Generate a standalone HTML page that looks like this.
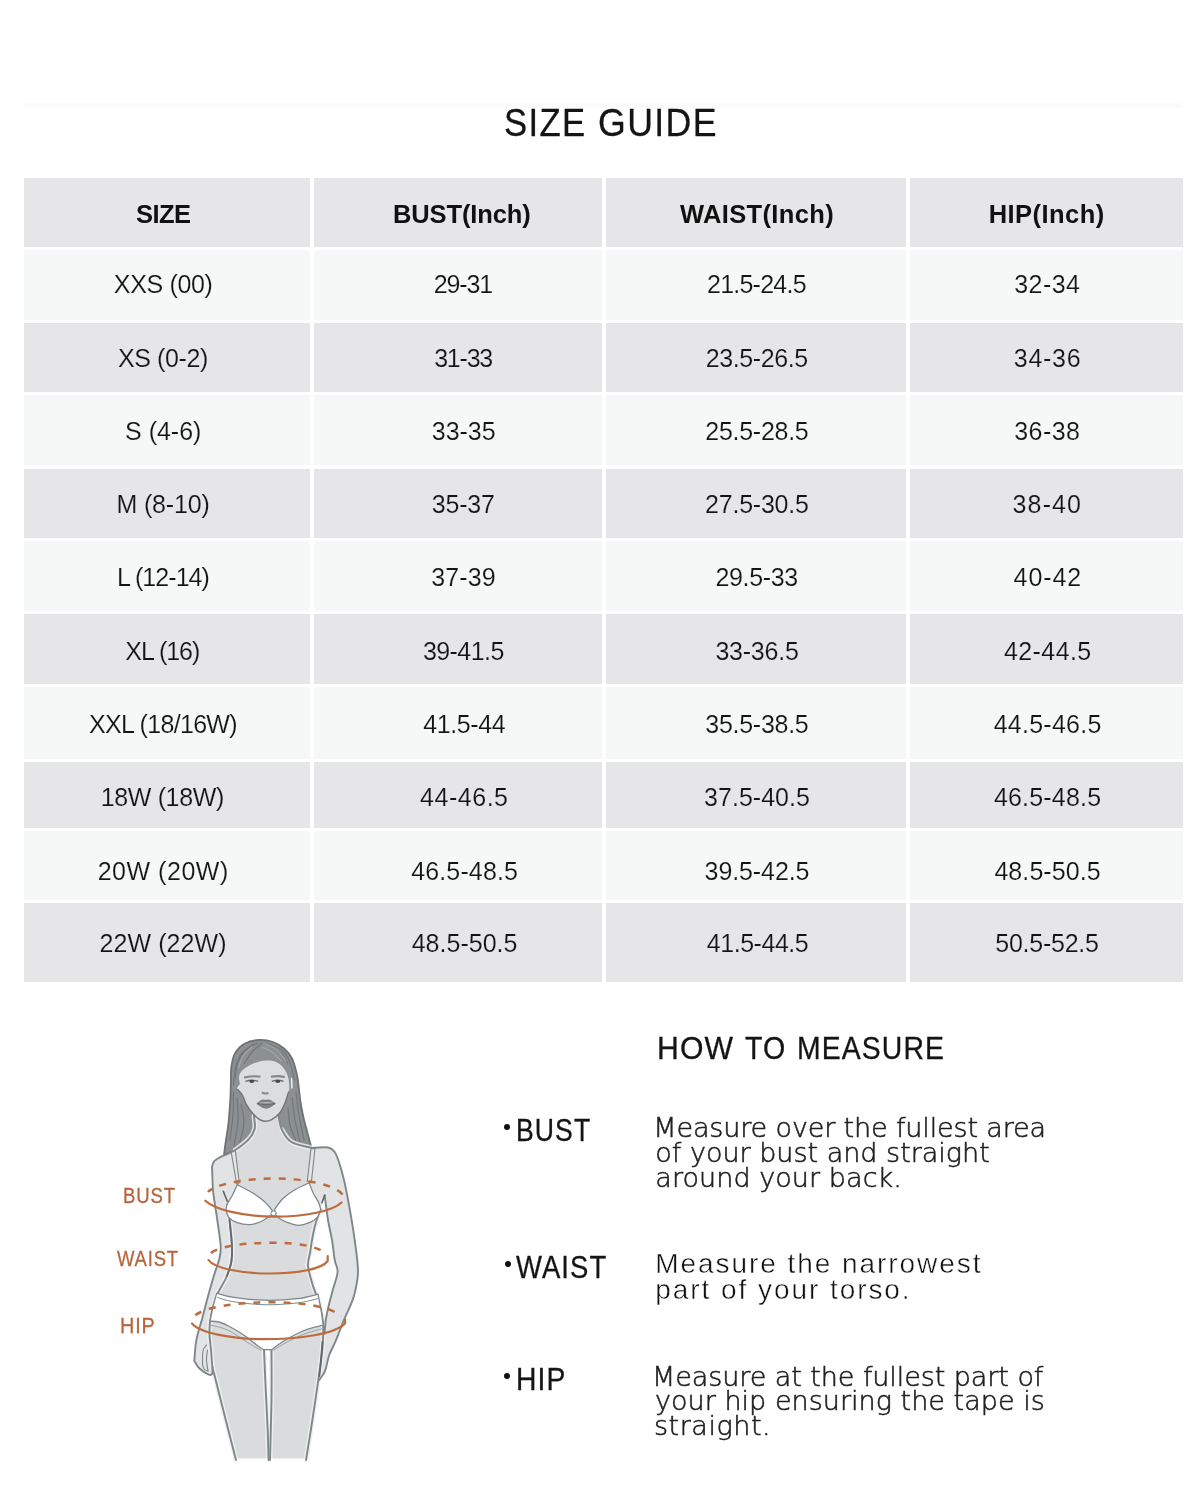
<!DOCTYPE html>
<html lang="en">
<head>
<meta charset="utf-8">
<title>Size Guide</title>
<style>
html,body{margin:0;padding:0;background:#fff;}
body{width:1200px;height:1500px;position:relative;overflow:hidden;font-family:"Liberation Sans",sans-serif;color:#151515;}
.c{position:absolute;}
.t{position:absolute;white-space:nowrap;line-height:1;}
.h{font-weight:bold;font-size:25.5px;color:#111;}
.d{font-size:25px;color:#141414;}
.e0{-webkit-text-stroke:0.15px #f6f7f7;}
.e1{-webkit-text-stroke:0.15px #e6e6e8;}
.title{transform-origin:0 0;position:absolute;white-space:nowrap;line-height:1;color:#141414;-webkit-text-stroke:0.3px #141414;}
.lab{transform-origin:0 0;position:absolute;white-space:nowrap;line-height:1;-webkit-text-stroke:0.3px #b5663c;}
.p{position:absolute;white-space:nowrap;line-height:1;font-family:"DejaVu Sans","Liberation Sans",sans-serif;font-weight:200;color:#222;-webkit-text-stroke:0.55px #1e1e1e;}
.p2{font-family:"Liberation Sans",sans-serif;font-weight:normal;color:#111;-webkit-text-stroke:0.45px #fff;}
#fig{position:absolute;left:0;top:0;}
</style>
</head>
<body>
<div class="c" style="left:24px;top:103px;width:1159px;height:5px;background:#fbfbfb"></div>
<div class="title" style="left:503.7px;top:104px;font-size:38px;letter-spacing:1.5px;transform:scaleX(0.9118)">SIZE</div>
<div class="title" style="left:598.1px;top:104px;font-size:38px;letter-spacing:1.5px;transform:scaleX(0.9382)">GUIDE</div>
<div class="c" style="left:24px;top:178px;width:286px;height:69px;background:#e6e6e8"></div>
<div class="c" style="left:314px;top:178px;width:288px;height:69px;background:#e6e6e8"></div>
<div class="c" style="left:606px;top:178px;width:300px;height:69px;background:#e6e6e8"></div>
<div class="c" style="left:910px;top:178px;width:273px;height:69px;background:#e6e6e8"></div>
<div class="c" style="left:24px;top:249.5px;width:286px;height:70.5px;background:#f6f7f7"></div>
<div class="c" style="left:314px;top:249.5px;width:288px;height:70.5px;background:#f6f7f7"></div>
<div class="c" style="left:606px;top:249.5px;width:300px;height:70.5px;background:#f6f7f7"></div>
<div class="c" style="left:910px;top:249.5px;width:273px;height:70.5px;background:#f6f7f7"></div>
<div class="c" style="left:24px;top:322.5px;width:286px;height:69.5px;background:#e6e6e8"></div>
<div class="c" style="left:314px;top:322.5px;width:288px;height:69.5px;background:#e6e6e8"></div>
<div class="c" style="left:606px;top:322.5px;width:300px;height:69.5px;background:#e6e6e8"></div>
<div class="c" style="left:910px;top:322.5px;width:273px;height:69.5px;background:#e6e6e8"></div>
<div class="c" style="left:24px;top:395px;width:286px;height:70px;background:#f6f7f7"></div>
<div class="c" style="left:314px;top:395px;width:288px;height:70px;background:#f6f7f7"></div>
<div class="c" style="left:606px;top:395px;width:300px;height:70px;background:#f6f7f7"></div>
<div class="c" style="left:910px;top:395px;width:273px;height:70px;background:#f6f7f7"></div>
<div class="c" style="left:24px;top:468.5px;width:286px;height:69.5px;background:#e6e6e8"></div>
<div class="c" style="left:314px;top:468.5px;width:288px;height:69.5px;background:#e6e6e8"></div>
<div class="c" style="left:606px;top:468.5px;width:300px;height:69.5px;background:#e6e6e8"></div>
<div class="c" style="left:910px;top:468.5px;width:273px;height:69.5px;background:#e6e6e8"></div>
<div class="c" style="left:24px;top:540.5px;width:286px;height:70.5px;background:#f6f7f7"></div>
<div class="c" style="left:314px;top:540.5px;width:288px;height:70.5px;background:#f6f7f7"></div>
<div class="c" style="left:606px;top:540.5px;width:300px;height:70.5px;background:#f6f7f7"></div>
<div class="c" style="left:910px;top:540.5px;width:273px;height:70.5px;background:#f6f7f7"></div>
<div class="c" style="left:24px;top:614px;width:286px;height:69.5px;background:#e6e6e8"></div>
<div class="c" style="left:314px;top:614px;width:288px;height:69.5px;background:#e6e6e8"></div>
<div class="c" style="left:606px;top:614px;width:300px;height:69.5px;background:#e6e6e8"></div>
<div class="c" style="left:910px;top:614px;width:273px;height:69.5px;background:#e6e6e8"></div>
<div class="c" style="left:24px;top:686.5px;width:286px;height:72.5px;background:#f6f7f7"></div>
<div class="c" style="left:314px;top:686.5px;width:288px;height:72.5px;background:#f6f7f7"></div>
<div class="c" style="left:606px;top:686.5px;width:300px;height:72.5px;background:#f6f7f7"></div>
<div class="c" style="left:910px;top:686.5px;width:273px;height:72.5px;background:#f6f7f7"></div>
<div class="c" style="left:24px;top:762px;width:286px;height:66px;background:#e6e6e8"></div>
<div class="c" style="left:314px;top:762px;width:288px;height:66px;background:#e6e6e8"></div>
<div class="c" style="left:606px;top:762px;width:300px;height:66px;background:#e6e6e8"></div>
<div class="c" style="left:910px;top:762px;width:273px;height:66px;background:#e6e6e8"></div>
<div class="c" style="left:24px;top:830.5px;width:286px;height:69.5px;background:#f6f7f7"></div>
<div class="c" style="left:314px;top:830.5px;width:288px;height:69.5px;background:#f6f7f7"></div>
<div class="c" style="left:606px;top:830.5px;width:300px;height:69.5px;background:#f6f7f7"></div>
<div class="c" style="left:910px;top:830.5px;width:273px;height:69.5px;background:#f6f7f7"></div>
<div class="c" style="left:24px;top:903px;width:286px;height:79px;background:#e6e6e8"></div>
<div class="c" style="left:314px;top:903px;width:288px;height:79px;background:#e6e6e8"></div>
<div class="c" style="left:606px;top:903px;width:300px;height:79px;background:#e6e6e8"></div>
<div class="c" style="left:910px;top:903px;width:273px;height:79px;background:#e6e6e8"></div>
<div class="t h" style="left:136.1px;top:202px;letter-spacing:-0.57px">SIZE</div>
<div class="t h" style="left:393px;top:202px;letter-spacing:-0.11px">BUST(Inch)</div>
<div class="t h" style="left:680px;top:202px;letter-spacing:0.35px">WAIST(Inch)</div>
<div class="t h" style="left:988.7px;top:202px;letter-spacing:0.45px">HIP(Inch)</div>
<div class="t d e0" style="left:113.8px;top:272.2px;letter-spacing:-0.33px">XXS (00)</div>
<div class="t d e0" style="left:433.7px;top:272.2px;letter-spacing:-1.1px">29-31</div>
<div class="t d e0" style="left:707px;top:272.2px;letter-spacing:-0.76px">21.5-24.5</div>
<div class="t d e0" style="left:1014.3px;top:272.2px;letter-spacing:0.4px">32-34</div>
<div class="t d e1" style="left:117.9px;top:345.6px;letter-spacing:-0.39px">XS (0-2)</div>
<div class="t d e1" style="left:434.2px;top:345.6px;letter-spacing:-1.22px">31-33</div>
<div class="t d e1" style="left:705.8px;top:345.6px;letter-spacing:-0.4px">23.5-26.5</div>
<div class="t d e1" style="left:1013.8px;top:345.6px;letter-spacing:0.7px">34-36</div>
<div class="t d e0" style="left:125.1px;top:418.8px;letter-spacing:-0.02px">S (4-6)</div>
<div class="t d e0" style="left:431.8px;top:418.8px;letter-spacing:-0.03px">33-35</div>
<div class="t d e0" style="left:705.3px;top:418.8px;letter-spacing:-0.27px">25.5-28.5</div>
<div class="t d e0" style="left:1014.3px;top:418.8px;letter-spacing:0.4px">36-38</div>
<div class="t d e1" style="left:116.4px;top:492px;letter-spacing:-0.14px">M (8-10)</div>
<div class="t d e1" style="left:431.8px;top:492px;letter-spacing:-0.2px">35-37</div>
<div class="t d e1" style="left:705.1px;top:492px;letter-spacing:-0.23px">27.5-30.5</div>
<div class="t d e1" style="left:1012.6px;top:492px;letter-spacing:1.12px">38-40</div>
<div class="t d e0" style="left:116.9px;top:565.3px;letter-spacing:-0.94px">L (12-14)</div>
<div class="t d e0" style="left:431.3px;top:565.3px;letter-spacing:0.1px">37-39</div>
<div class="t d e0" style="left:715.4px;top:565.3px;letter-spacing:-0.32px">29.5-33</div>
<div class="t d e0" style="left:1013.6px;top:565.3px;letter-spacing:0.92px">40-42</div>
<div class="t d e1" style="left:125.3px;top:638.9px;letter-spacing:-1px">XL (16)</div>
<div class="t d e1" style="left:422.9px;top:638.9px;letter-spacing:-0.55px">39-41.5</div>
<div class="t d e1" style="left:715.4px;top:638.9px;letter-spacing:-0.23px">33-36.5</div>
<div class="t d e1" style="left:1004px;top:638.9px;letter-spacing:0.4px">42-44.5</div>
<div class="t d e0" style="left:89.1px;top:712px;letter-spacing:-0.69px">XXL (18/16W)</div>
<div class="t d e0" style="left:423.2px;top:712px;letter-spacing:-0.4px">41.5-44</div>
<div class="t d e0" style="left:705.3px;top:712px;letter-spacing:-0.27px">35.5-38.5</div>
<div class="t d e0" style="left:993.7px;top:712px;letter-spacing:0.25px">44.5-46.5</div>
<div class="t d e1" style="left:100.8px;top:785.4px;letter-spacing:-0.37px">18W (18W)</div>
<div class="t d e1" style="left:420.1px;top:785.4px;letter-spacing:0.52px">44-46.5</div>
<div class="t d e1" style="left:704.1px;top:785.4px;letter-spacing:0.02px">37.5-40.5</div>
<div class="t d e1" style="left:993.9px;top:785.4px;letter-spacing:0.2px">46.5-48.5</div>
<div class="t d e0" style="left:97.7px;top:858.6px;letter-spacing:0.52px">20W (20W)</div>
<div class="t d e0" style="left:411.2px;top:858.6px;letter-spacing:0.14px">46.5-48.5</div>
<div class="t d e0" style="left:704.6px;top:858.6px;letter-spacing:-0.1px">39.5-42.5</div>
<div class="t d e0" style="left:994.4px;top:858.6px;letter-spacing:0.08px">48.5-50.5</div>
<div class="t d e1" style="left:99.4px;top:931.3px;letter-spacing:0.1px">22W (22W)</div>
<div class="t d e1" style="left:411.7px;top:931.3px;letter-spacing:0.01px">48.5-50.5</div>
<div class="t d e1" style="left:706.8px;top:931.3px;letter-spacing:-0.46px">41.5-44.5</div>
<div class="t d e1" style="left:995.3px;top:931.3px;letter-spacing:-0.25px">50.5-52.5</div>
<svg id="fig" width="1200" height="1500" viewBox="0 0 1200 1500" fill="none" stroke-linecap="round" stroke-linejoin="round">
<path d="M224 1155C224.3 1152.5 225.2 1145.3 226 1140C226.8 1134.7 227.8 1129.7 228.5 1123C229.2 1116.3 229.9 1106.3 230.3 1100C230.7 1093.7 230.6 1090.7 230.8 1085C231 1079.3 230.7 1071.4 231.5 1066C232.3 1060.6 233.2 1056.2 235.5 1052.5C237.8 1048.8 241.1 1045.6 245 1043.5C248.9 1041.4 254.3 1040.2 259 1040C263.7 1039.8 268.8 1040.6 273 1042C277.2 1043.4 280.8 1045.8 284 1048.5C287.2 1051.2 289.8 1054.1 292 1058.5C294.2 1062.9 295.8 1069.8 297 1075C298.2 1080.2 298.4 1085.5 299 1090C299.6 1094.5 299.8 1097.5 300.5 1102C301.2 1106.5 302.1 1111.5 303.3 1117C304.6 1122.5 306.6 1129.8 308 1135C309.4 1140.2 310.9 1145.8 311.5 1148L290 1146L245 1146Z" fill="#8c9092" stroke="#6d7274" stroke-width="1.8"/>
<g stroke="#72777a" stroke-width="1.2">
<path d="M258 1043C256 1044.2 249.3 1046.8 246 1050C242.7 1053.2 239.8 1057.3 238 1062C236.2 1066.7 235.5 1075.3 235 1078"/>
<path d="M262 1043C260.3 1044.5 255 1048.5 252 1052C249 1055.5 245.3 1062 244 1064"/>
<path d="M233.5 1092C233.4 1095.8 233.6 1107 233 1115C232.4 1123 230.5 1135.8 230 1140"/>
<path d="M237 1098C237.2 1101.7 238.5 1112 238 1120C237.5 1128 234.7 1141.7 234 1146"/>
<path d="M241 1104C241.5 1107 244.2 1115.7 244 1122C243.8 1128.3 240.7 1138.7 240 1142"/>
<path d="M266 1043C268.3 1044 276.2 1046.2 280 1049C283.8 1051.8 286.6 1054.8 289 1060C291.4 1065.2 293.6 1076.7 294.5 1080"/>
<path d="M270 1045.5C272 1046.9 279 1050.9 282 1054C285 1057.1 287 1062.3 288 1064"/>
<path d="M254 1044C252 1045.5 245 1049.3 242 1053C239 1056.7 237.4 1060.7 236 1066C234.6 1071.3 233.9 1081.8 233.5 1085"/>
<path d="M296 1092C296.5 1095.8 297.7 1107 299 1115C300.3 1123 303.2 1135.8 304 1140"/>
<path d="M292 1098C292.5 1101.7 293.7 1112.7 295 1120C296.3 1127.3 299.2 1138.3 300 1142"/>
<path d="M288 1108C288.3 1110.8 288.7 1119.5 290 1125C291.3 1130.5 295 1138.3 296 1141"/>
</g>
<g stroke="#a3a7a9" stroke-width="1.2">
<path d="M266 1044C267.8 1045 273.7 1047.2 277 1050C280.3 1052.8 284.5 1059.2 286 1061"/>
<path d="M262 1047C263.7 1047.8 268.8 1049.7 272 1052C275.2 1054.3 279.5 1059.5 281 1061"/>
<path d="M252 1047C250.5 1048.5 245.2 1052.5 243 1056C240.8 1059.5 239.2 1066 238.5 1068"/>
</g>
<path d="M254 1116C254.1 1118.1 255.6 1124.8 254.7 1128.7C253.8 1132.6 251.9 1135.8 248.7 1139.3C245.5 1142.8 239.2 1147.4 235.3 1150C231.4 1152.6 226.7 1154.2 225 1155L225 1155C223.9 1155.5 220.5 1156.9 218.7 1158C216.9 1159.1 215.1 1160 214 1161.5C212.9 1163 212.3 1165.8 212 1166.7L212 1166.7C212.1 1168.9 212.3 1175.6 212.5 1180C212.7 1184.4 212.5 1186.6 213.3 1193.3C214.1 1200 216.1 1211.1 217.3 1220C218.5 1228.9 220.4 1240 220.7 1246.7C221 1253.4 220.2 1255.1 219 1260C217.8 1264.9 215.8 1269.3 213.8 1276C211.8 1282.7 208.9 1293.1 207 1300C205.1 1306.9 204 1312 202.5 1317.5C201 1323 199.1 1328.5 198 1333C196.9 1337.5 196.3 1339.8 195.7 1344.5C195.1 1349.2 194.5 1358.2 194.3 1361L194.3 1361C195.2 1362.2 197.1 1366.2 199.5 1368.5C201.9 1370.8 206.4 1373.6 208.5 1374.5C210.6 1375.4 211.5 1375 212.2 1373.7C212.8 1372.5 212.4 1368.1 212.4 1367L212.4 1367C212.9 1368.8 213.2 1370 215.2 1378C217.2 1386 221 1401.3 224.5 1415C228 1428.7 234.1 1452.5 236 1460L268.5 1460C268.4 1455 268.2 1442.5 267.7 1430C267.2 1417.5 266.1 1398.4 265.5 1385C264.9 1371.6 264.2 1355.6 264 1349.7L271.5 1349.7C271.5 1358.1 271.8 1381.6 271.5 1400C271.2 1418.4 270.2 1450 270 1460L306 1460C307 1453.8 309.9 1436.2 312 1422.5C314.1 1408.8 316.9 1390 318.7 1377.5C320.4 1365 321.8 1356.2 322.5 1347.5C323.2 1338.8 323.4 1331.2 323.2 1325C322.9 1318.8 321.8 1314 321 1310C320.2 1306 319.8 1305.1 318.4 1300.8C317 1296.5 314.1 1289.8 312.4 1284C310.7 1278.2 308.4 1271.2 308 1266C307.6 1260.8 309.3 1257.3 310 1253C310.7 1248.7 311.2 1244.4 312 1240C312.8 1235.6 313.7 1230.7 314.7 1226.7C315.7 1222.7 317 1218.9 318 1216C319 1213.1 320.2 1210.4 320.7 1209.3L320.7 1209.3C321.4 1207 324 1197.6 324.7 1195.3L324.7 1195.3C325.6 1191.1 332.2 1177.9 330 1170C327.8 1162.1 314.6 1151.7 311.5 1148L311.5 1148C308.1 1147 296.2 1145 291.3 1142C286.4 1139 284.1 1134.3 282 1130C279.9 1125.7 279.2 1118.3 278.7 1116Z" fill="#e2e3e4"/>
<path d="M311.5 1148C314.2 1147.9 324.1 1146.8 328 1147.5C331.9 1148.2 332.9 1149.7 334.7 1152C336.5 1154.3 337.1 1156.6 338.7 1161.3C340.2 1166 342.2 1172.4 344 1180C345.8 1187.6 347.5 1196.7 349.3 1206.7C351.1 1216.7 353.2 1229.3 354.7 1240C356.1 1250.7 357.9 1262.1 358 1270.8C358.1 1279.5 356.2 1286.3 355 1292C353.8 1297.7 352.6 1300.2 350.8 1304.7C349 1309.2 346.8 1313.2 344.2 1319.3C341.6 1325.4 338.1 1335.2 335.5 1341.3C332.9 1347.4 330.6 1351.1 328.9 1356C327.2 1360.9 326.8 1366.6 325.2 1370.6C323.6 1374.6 320.3 1378.4 319.3 1380L319.3 1380C319.8 1374.6 321.6 1355.2 322.5 1347.5C323.4 1339.8 324.2 1336.2 324.5 1334L324.5 1334C324.7 1331.5 325.2 1324.2 325.9 1319.3C326.6 1314.4 327.8 1309.6 328.9 1304.7C330 1299.8 331.4 1295.5 332.8 1290C334.2 1284.5 337.3 1277 337.6 1272C337.9 1267 335.6 1265.3 334.7 1260C333.8 1254.7 333.1 1246.7 332 1240C330.9 1233.3 329.2 1227.5 328 1220C326.8 1212.5 325.2 1199.4 324.7 1195.3L324.7 1195.3C323.6 1191.9 320.2 1182.9 318 1175C315.8 1167.1 312.6 1152.5 311.5 1148Z" fill="#e2e3e4"/>
<path d="M254 1116C254.1 1118.1 255.6 1124.8 254.7 1128.7C253.8 1132.6 251.9 1135.8 248.7 1139.3C245.5 1142.8 237.8 1148 235.3 1150C232.9 1152 234.2 1150.8 234 1151L234 1151C234.6 1156.6 236.8 1179.1 237.3 1184.7L237.3 1184.7C236.4 1186.6 233.7 1192.8 232 1196C230.3 1199.2 228.3 1201.8 227.3 1204C226.3 1206.2 226.2 1208.4 226 1209.3L226 1209.3C226.2 1209.8 226.6 1209.8 227.3 1212C228 1214.2 229.2 1216.9 230 1222.7C230.8 1228.5 231.8 1240.2 232 1246.7C232.2 1253.2 232.3 1256.8 231.3 1262C230.3 1267.2 228.1 1273.1 226 1278C223.9 1282.9 220.8 1286.8 218.6 1291.6C216.4 1296.4 214.4 1302.1 213 1307C211.6 1311.9 210.3 1315.7 210 1321.2C209.7 1326.7 210.6 1332.4 211 1340C211.4 1347.6 212.2 1362.5 212.4 1367L212.4 1367C212.9 1368.8 213.2 1370 215.2 1378C217.2 1386 221 1401.3 224.5 1415C228 1428.7 234.1 1452.5 236 1460L268.5 1460C268.4 1455 268.2 1442.5 267.7 1430C267.2 1417.5 266.1 1398.4 265.5 1385C264.9 1371.6 264.2 1355.6 264 1349.7L271.5 1349.7C271.5 1358.1 271.8 1381.6 271.5 1400C271.2 1418.4 270.2 1450 270 1460L306 1460C307 1453.8 309.9 1436.2 312 1422.5C314.1 1408.8 316.9 1390 318.7 1377.5C320.4 1365 321.8 1356.2 322.5 1347.5C323.2 1338.8 323.4 1331.2 323.2 1325C322.9 1318.8 321.8 1314 321 1310C320.2 1306 319.8 1305.1 318.4 1300.8C317 1296.5 314.1 1289.8 312.4 1284C310.7 1278.2 308.4 1271.2 308 1266C307.6 1260.8 309.3 1257.3 310 1253C310.7 1248.7 311.2 1244.4 312 1240C312.8 1235.6 313.7 1230.7 314.7 1226.7C315.7 1222.7 317 1218.9 318 1216C319 1213.1 320.2 1210.4 320.7 1209.3L320.7 1209.3C320.4 1208.2 319.9 1205.4 318.7 1202.7C317.5 1200 314.9 1196.6 313.3 1193.3C311.7 1190 310 1184.5 309.3 1182.7L309.3 1182.7C309.9 1177.2 312.1 1155.5 312.7 1150L312.7 1150C312.5 1149.7 311.7 1148.3 311.5 1148L311.5 1148C308.1 1147 296.2 1145 291.3 1142C286.4 1139 284.1 1134.3 282 1130C279.9 1125.7 279.2 1118.3 278.7 1116Z" fill="#dadbdc"/>
<g stroke="#eff0f0" stroke-width="5" stroke-opacity="0.85">
<path d="M227.3 1204C227.5 1205.5 228.1 1209.9 228.5 1213C228.9 1216.1 229.4 1217.1 230 1222.7C230.6 1228.3 231.8 1240.2 232 1246.7C232.2 1253.2 232.3 1256.8 231.3 1262C230.3 1267.2 228.1 1273.1 226 1278C223.9 1282.9 220.8 1286.8 218.6 1291.6C216.4 1296.4 214.4 1302.1 213 1307C211.6 1311.9 210.5 1318.8 210 1321.2"/>
<path d="M210 1321.2C209.9 1323.5 209.3 1330.2 209.5 1335C209.7 1339.8 210.5 1344.7 211 1350C211.5 1355.3 211.7 1362.3 212.4 1367C213.1 1371.7 213.2 1370 215.2 1378C217.2 1386 221 1401.3 224.5 1415C228 1428.7 234.1 1452.5 236 1460"/>
<path d="M268.5 1460C268.4 1455 268.2 1442.5 267.7 1430C267.2 1417.5 266.1 1398.4 265.5 1385C264.9 1371.6 264.2 1355.6 264 1349.7"/>
<path d="M271.5 1349.7C271.5 1358.1 271.8 1381.6 271.5 1400C271.2 1418.4 270.2 1450 270 1460"/>
<path d="M306 1460C307 1453.8 309.9 1436.2 312 1422.5C314.1 1408.8 316.9 1390 318.7 1377.5C320.4 1365 321.8 1356.2 322.5 1347.5C323.2 1338.8 323.4 1331.2 323.2 1325C322.9 1318.8 321.8 1314 321 1310C320.2 1306 319.8 1305.1 318.4 1300.8C317 1296.5 314.1 1289.8 312.4 1284C310.7 1278.2 308.4 1271.2 308 1266C307.6 1260.8 309.3 1257.3 310 1253C310.7 1248.7 311.2 1244.4 312 1240C312.8 1235.6 313.7 1230.7 314.7 1226.7C315.7 1222.7 317 1218.9 318 1216C319 1213.1 320.2 1210.4 320.7 1209.3"/>
<path d="M254 1116C254.1 1118.1 255.6 1124.8 254.7 1128.7C253.8 1132.6 251.9 1135.8 248.7 1139.3C245.5 1142.8 237.5 1148.2 235.3 1150"/>
<path d="M282 1130C283.6 1132 286.4 1139 291.3 1142C296.2 1145 308.1 1147 311.5 1148"/>
</g>
<path d="M236 1460L304 1460" stroke="#fff" stroke-width="3"/>
<g stroke="#7f8789" stroke-width="1.9">
<path d="M254 1116C254.1 1118.1 255.6 1124.8 254.7 1128.7C253.8 1132.6 251.9 1135.8 248.7 1139.3C245.5 1142.8 239.2 1147.4 235.3 1150C231.4 1152.6 226.7 1154.2 225 1155L225 1155C223.9 1155.5 220.5 1156.9 218.7 1158C216.9 1159.1 215.1 1160 214 1161.5C212.9 1163 212.3 1165.8 212 1166.7L212 1166.7C212.1 1168.9 212.3 1175.6 212.5 1180C212.7 1184.4 212.5 1186.6 213.3 1193.3C214.1 1200 216.1 1211.1 217.3 1220C218.5 1228.9 220.4 1240 220.7 1246.7C221 1253.4 220.2 1255.1 219 1260C217.8 1264.9 215.8 1269.3 213.8 1276C211.8 1282.7 208.9 1293.1 207 1300C205.1 1306.9 204 1312 202.5 1317.5C201 1323 199.1 1328.5 198 1333C196.9 1337.5 196.3 1339.8 195.7 1344.5C195.1 1349.2 194.5 1358.2 194.3 1361L194.3 1361C195.2 1362.2 197.1 1366.2 199.5 1368.5C201.9 1370.8 206.4 1373.6 208.5 1374.5C210.6 1375.4 211.5 1375 212.2 1373.7C212.8 1372.5 212.4 1368.1 212.4 1367"/>
<path d="M278.7 1116C279.2 1118.3 279.9 1125.7 282 1130C284.1 1134.3 286.4 1139 291.3 1142C296.2 1145 308.1 1147 311.5 1148"/>
<path d="M311.5 1148C314.2 1147.9 324.1 1146.8 328 1147.5C331.9 1148.2 332.9 1149.7 334.7 1152C336.5 1154.3 337.1 1156.6 338.7 1161.3C340.2 1166 342.2 1172.4 344 1180C345.8 1187.6 347.5 1196.7 349.3 1206.7C351.1 1216.7 353.2 1229.3 354.7 1240C356.1 1250.7 357.9 1262.1 358 1270.8C358.1 1279.5 356.2 1286.3 355 1292C353.8 1297.7 352.6 1300.2 350.8 1304.7C349 1309.2 346.8 1313.2 344.2 1319.3C341.6 1325.4 338.1 1335.2 335.5 1341.3C332.9 1347.4 330.6 1351.1 328.9 1356C327.2 1360.9 326.8 1366.6 325.2 1370.6C323.6 1374.6 320.3 1378.4 319.3 1380"/>
<path d="M324.7 1195.3C325.2 1199.4 326.8 1212.5 328 1220C329.2 1227.5 330.9 1233.3 332 1240C333.1 1246.7 333.8 1254.7 334.7 1260C335.6 1265.3 337.9 1267 337.6 1272C337.3 1277 334.2 1284.5 332.8 1290C331.4 1295.5 330 1299.8 328.9 1304.7C327.8 1309.6 326.6 1314.4 325.9 1319.3C325.2 1324.2 324.7 1331.5 324.5 1334"/>
<path d="M227.3 1204C227.5 1205.5 228.1 1209.9 228.5 1213C228.9 1216.1 229.4 1217.1 230 1222.7C230.6 1228.3 231.8 1240.2 232 1246.7C232.2 1253.2 232.3 1256.8 231.3 1262C230.3 1267.2 228.1 1273.1 226 1278C223.9 1282.9 220.8 1286.8 218.6 1291.6C216.4 1296.4 214.4 1302.1 213 1307C211.6 1311.9 210.5 1318.8 210 1321.2"/>
<path d="M210 1321.2C209.9 1323.5 209.3 1330.2 209.5 1335C209.7 1339.8 210.5 1344.7 211 1350C211.5 1355.3 211.7 1362.3 212.4 1367C213.1 1371.7 213.2 1370 215.2 1378C217.2 1386 221 1401.3 224.5 1415C228 1428.7 234.1 1452.5 236 1460"/>
<path d="M268.5 1460C268.4 1455 268.2 1442.5 267.7 1430C267.2 1417.5 266.1 1398.4 265.5 1385C264.9 1371.6 264.2 1355.6 264 1349.7"/>
<path d="M271.5 1349.7C271.5 1358.1 271.8 1381.6 271.5 1400C271.2 1418.4 270.2 1450 270 1460"/>
<path d="M306 1460C307 1453.8 309.9 1436.2 312 1422.5C314.1 1408.8 316.9 1390 318.7 1377.5C320.4 1365 321.8 1356.2 322.5 1347.5C323.2 1338.8 323.4 1331.2 323.2 1325C322.9 1318.8 321.8 1314 321 1310C320.2 1306 319.8 1305.1 318.4 1300.8C317 1296.5 314.1 1289.8 312.4 1284C310.7 1278.2 308.4 1271.2 308 1266C307.6 1260.8 309.3 1257.3 310 1253C310.7 1248.7 311.2 1244.4 312 1240C312.8 1235.6 313.7 1230.7 314.7 1226.7C315.7 1222.7 317 1218.9 318 1216C319 1213.1 320.2 1210.4 320.7 1209.3"/>
</g>
<path d="M229.4 1220C229.8 1224.5 231.7 1239.7 232 1246.7C232.3 1253.7 232.1 1257.1 231.3 1262C230.5 1266.9 227.7 1273.7 227 1276" stroke="#626a6c" stroke-width="1.7"/>
<path d="M223.3 1191.3L227.3 1201.3" stroke="#5d6466" stroke-width="1.6"/>
<path d="M324.7 1195.3L322 1202.7" stroke="#5d6466" stroke-width="1.6"/>
<path d="M322.5 1342C322.2 1345 321.5 1354.3 321 1360C320.5 1365.7 319.6 1373.3 319.3 1376" stroke="#5f6668" stroke-width="1.8"/>
<g stroke="#7f8789" stroke-width="1.1">
<path d="M206.5 1345C205.9 1346 203.7 1347.8 203 1351C202.3 1354.2 202.6 1361.8 202.5 1364"/>
<path d="M207.5 1350C207.3 1351.7 206.4 1356.5 206.5 1360C206.6 1363.5 207.8 1369.2 208 1371"/>
<path d="M202.5 1364C202.8 1364.8 203.1 1367.8 204 1369C204.9 1370.2 207.3 1370.7 208 1371"/>
</g>
<path d="M231.3 1152.6L236.7 1184L239.3 1182.7L235.3 1150.6Z" fill="#e4e5e6" stroke="#7f8789" stroke-width="1.1"/>
<path d="M311 1148.6L307.3 1181.3L311.3 1182.7L315 1148.4Z" fill="#e4e5e6" stroke="#7f8789" stroke-width="1.1"/>
<path d="M237.3 1184.7C240 1186.1 248.9 1190.5 253.3 1193.3C257.8 1196.1 260.9 1198.5 264 1201.3C267.1 1204.1 270.7 1208.5 272 1210L272 1210C272.1 1210.7 272.5 1213.3 272.6 1214L272.6 1214C271.8 1214.5 270.1 1216 268 1217.3C265.9 1218.6 263.1 1220.8 260 1222C256.9 1223.2 253.1 1224.6 249.3 1224.7C245.5 1224.8 240.7 1223.9 237.3 1222.7C233.9 1221.5 230.6 1219.5 228.7 1217.3C226.8 1215.1 226.4 1210.6 226 1209.3L226 1209.3C226.2 1208.4 226.3 1206.2 227.3 1204C228.3 1201.8 230.3 1199.2 232 1196C233.7 1192.8 236.4 1186.6 237.3 1184.7Z" fill="#fff" stroke="#7f8789" stroke-width="1.3"/>
<path d="M309.3 1182.7C306.6 1184 297.7 1188 293.3 1190.7C288.9 1193.4 285.8 1195.6 282.7 1198.7C279.6 1201.8 276 1207.5 274.7 1209.3L274.7 1209.3C274.8 1210.2 274.9 1213.6 275 1214.5L275 1214.5C275.8 1215.2 277.8 1217.3 280 1218.7C282.2 1220.1 284.9 1221.6 288 1222.7C291.1 1223.8 295.1 1225.3 298.7 1225.3C302.2 1225.3 306.2 1224 309.3 1222.7C312.4 1221.4 315.4 1219.5 317.3 1217.3C319.2 1215.1 320.1 1210.6 320.7 1209.3L320.7 1209.3C320.4 1208.2 319.9 1205.4 318.7 1202.7C317.5 1200 314.9 1196.6 313.3 1193.3C311.7 1190 310 1184.5 309.3 1182.7Z" fill="#fff" stroke="#7f8789" stroke-width="1.3"/>
<ellipse cx="273.6" cy="1213.3" rx="2.6" ry="2.4" fill="#fff" stroke="#7f8789" stroke-width="1"/>
<path d="M216.7 1293.2C219.3 1293.9 224.6 1296 232.5 1297.2C240.4 1298.4 253.2 1300 264 1300.2C274.8 1300.5 288 1299.7 297 1298.7C306 1297.7 314.5 1295 318 1294.2L318 1294.2C318.5 1296.8 320.1 1304.9 321 1310C321.9 1315.1 322.8 1322.5 323.2 1325L323.2 1325C321.8 1325.4 318.4 1326.2 315 1327.2C311.6 1328.2 307.5 1329.1 303 1331C298.5 1332.9 292.2 1336.1 288 1338.5C283.8 1340.9 280.2 1343.3 277.5 1345.2C274.8 1347.1 272.5 1349 271.5 1349.7L271.5 1349.7C270.2 1349.7 265.2 1349.7 264 1349.7L264 1349.7C263 1349.1 261.2 1348.4 258 1346C254.8 1343.6 249.2 1338.8 244.5 1335.5C239.8 1332.2 233.8 1328.8 229.5 1326.5C225.2 1324.2 222.2 1322.9 219 1322C215.8 1321.1 211.5 1321.3 210 1321.2L210 1321.2C210.5 1318.8 211.9 1311.7 213 1307C214.1 1302.3 216.1 1295.5 216.7 1293.2Z" fill="#fff" stroke="#7f8789" stroke-width="1.3"/>
<path d="M217.5 1297.5C220 1298.2 224.8 1300.3 232.5 1301.5C240.2 1302.7 253.2 1304.5 264 1304.7C274.8 1305 288.1 1304 297 1303C305.9 1302 314.1 1299.4 317.5 1298.7" stroke="#7f8789" stroke-width="1"/>
<path d="M210.7 1325C213.6 1325.9 222.1 1327.5 228 1330.2C233.9 1333 240.5 1338.1 246 1341.5C251.5 1344.9 258.5 1349 261 1350.5" stroke="#9aa1a3" stroke-width="1"/>
<path d="M273 1350.5C275.5 1349 282.8 1344.2 288 1341.5C293.2 1338.8 298.8 1336.1 304.5 1334C310.2 1331.9 319.5 1329.6 322.5 1328.7" stroke="#9aa1a3" stroke-width="1"/>
<path d="M239 1077.7C239.3 1075.5 239.6 1073.2 241.7 1071C243.8 1068.8 248 1066 251.7 1064.3C255.4 1062.6 259.7 1061.1 263.7 1060.7C267.7 1060.3 272.4 1060.4 275.7 1061.7C279 1063 281.6 1065.6 283.7 1068.3C285.8 1071 287.4 1073.8 288.3 1077.7C289.2 1081.6 289.6 1087.5 289 1091.7C288.4 1095.9 286.6 1099.5 285 1103C283.4 1106.5 281.9 1110.2 279.7 1113C277.5 1115.8 274.1 1118.3 271.7 1119.7C269.2 1121.1 267 1121.3 265 1121.3C263 1121.3 261.7 1121 259.7 1119.7C257.7 1118.4 255.2 1116.3 253 1113.7C250.8 1111.1 248.1 1107.4 246.3 1104.3C244.5 1101.2 243.8 1097.5 242.3 1095C240.8 1092.5 237.6 1090.8 237.2 1089C236.8 1087.2 239.5 1085.9 239.8 1084C240.1 1082.1 238.7 1079.9 239 1077.7Z" fill="#dcddde"/>
<path d="M237.2 1089C238 1090 240.8 1092.5 242.3 1095C243.8 1097.5 244.5 1101.2 246.3 1104.3C248.1 1107.4 250.8 1111.1 253 1113.7C255.2 1116.3 257.7 1118.4 259.7 1119.7C261.7 1121 263 1121.3 265 1121.3C267 1121.3 269.2 1121.1 271.7 1119.7C274.1 1118.3 277.5 1115.8 279.7 1113C281.9 1110.2 283.5 1106.5 285 1103C286.5 1099.5 288 1093.8 288.6 1092" stroke="#6f7678" stroke-width="1.4"/>
<path d="M237.6 1088.4L239.6 1085.2" stroke="#f4f5f5" stroke-width="0.9"/><circle cx="258.2" cy="1103.7" r="1.1" fill="#55595b"/><circle cx="274" cy="1103.7" r="1.1" fill="#55595b"/>
<path d="M291.6 1078.5L291.9 1088" stroke="#eef1f2" stroke-width="1.5"/>
<path d="M245 1077.4Q252 1075.6 259.5 1076.6" stroke="#84898b" stroke-width="2.2"/>
<path d="M271.8 1076.6Q278 1075.6 283.8 1076.8" stroke="#84898b" stroke-width="2.2"/>
<path d="M246 1081.2Q251.7 1079.2 257.6 1081.2" stroke="#6a6f71" stroke-width="1.4"/>
<path d="M272.4 1081.2Q277.7 1079.2 283 1081.2" stroke="#6a6f71" stroke-width="1.4"/>
<ellipse cx="251.8" cy="1081.3" rx="2.5" ry="1.6" fill="#43484a"/>
<ellipse cx="277.8" cy="1081.3" rx="2.5" ry="1.6" fill="#43484a"/>
<path d="M262.6 1092.8Q265 1094 267.6 1093.2" stroke="#888c8e" stroke-width="2.2"/>
<path d="M257 1103.6Q261 1099 264 1099.6Q265.6 1100.3 267.2 1099.6Q270.5 1099 275.2 1103.6Q270.5 1108.9 266 1108.7Q261.5 1108.7 257 1103.6Z" fill="#7c8183"/>
<path d="M260 1103.3Q266 1102.3 272.5 1103.3" stroke="#b9bcbd" stroke-width="1.4"/>
<path d="M257.2 1103.6Q266 1105.2 275 1103.6" stroke="#5c6163" stroke-width="0.9"/>
<g stroke="#bd6c3f">
<path d="M205.3 1200.7C215 1210 245 1216.7 274.7 1216.7C305 1216.7 333 1211 341.5 1202.5" stroke-width="2.2"/>
<path d="M274.7 1178.5C245 1178.5 214 1184.5 208 1192M274.7 1178.5C304 1178.5 336 1185 342.7 1194.7" stroke-width="2.5" stroke-dasharray="7 8" stroke-dashoffset="11" stroke-linecap="butt"/>
<path d="M208.5 1260C214 1268 240 1273.5 270 1273.5C298 1273.5 322 1269 327.7 1261L327.7 1256" stroke-width="2.2"/>
<path d="M273 1242.7C242 1242.7 216 1247 210 1254M273 1242.7C296 1242.7 315 1246 324 1252" stroke-width="2.5" stroke-dasharray="7 8" stroke-dashoffset="3.5" stroke-linecap="butt"/>
<path d="M192 1323.5C200 1333 232 1339.2 264 1339.2C300 1339.2 335 1334 345 1323.5L345 1319.5" stroke-width="2.2"/>
<path d="M272 1302.3C237 1302.3 203 1307 194 1316.5M272 1302.3C302 1302.3 333 1307 341 1316.5" stroke-width="2.5" stroke-dasharray="7 8" stroke-dashoffset="3.5" stroke-linecap="butt"/>
</g>
</svg>
<div class="title" style="left:657.4px;top:1032.6px;font-size:31px;letter-spacing:1.2px;transform:scaleX(0.9737)">HOW</div>
<div class="title" style="left:745.3px;top:1032.6px;font-size:31px;letter-spacing:1.2px;transform:scaleX(0.9214)">TO</div>
<div class="title" style="left:796.5px;top:1032.6px;font-size:31px;letter-spacing:1.2px;transform:scaleX(0.9153)">MEASURE</div>
<div class="c" style="left:504px;top:1124px;width:6px;height:6px;border-radius:50%;background:#111"></div>
<div class="title" style="left:515.7px;top:1114.7px;font-size:30.5px;letter-spacing:1.2px;transform:scaleX(0.8732)">BUST</div>
<div class="c" style="left:505px;top:1261px;width:6px;height:6px;border-radius:50%;background:#111"></div>
<div class="title" style="left:515.7px;top:1252px;font-size:30.5px;letter-spacing:1.2px;transform:scaleX(0.9)">WAIST</div>
<div class="c" style="left:504.2px;top:1373.3px;width:6px;height:6px;border-radius:50%;background:#111"></div>
<div class="title" style="left:516px;top:1364px;font-size:30.5px;letter-spacing:1.2px;transform:scaleX(0.928)">HIP</div>
<div class="p" style="left:653.3px;top:1113.7px;font-size:27px;letter-spacing:-0.14px">Measure over the fullest area</div>
<div class="p" style="left:655.3px;top:1138.7px;font-size:27px;letter-spacing:0px">of your bust and straight</div>
<div class="p" style="left:655.3px;top:1163.7px;font-size:27px;letter-spacing:0.06px">around your back.</div>
<div class="p p2" style="left:655.3px;top:1250.3px;font-size:28px;letter-spacing:1.94px">Measure the narrowest</div>
<div class="p p2" style="left:655.3px;top:1276.3px;font-size:28px;letter-spacing:1.94px">part of your torso.</div>
<div class="p" style="left:652px;top:1362.7px;font-size:27px;letter-spacing:-0.07px">Measure at the fullest part of</div>
<div class="p" style="left:655px;top:1387px;font-size:27px;letter-spacing:0.03px">your hip ensuring the tape is</div>
<div class="p" style="left:654px;top:1412px;font-size:27px;letter-spacing:0.54px">straight.</div>
<div class="lab" style="left:122.9px;top:1184.6px;font-size:22px;letter-spacing:1px;transform:scaleX(0.8441);color:#b5663c">BUST</div>
<div class="lab" style="left:116.8px;top:1248px;font-size:22px;letter-spacing:1px;transform:scaleX(0.8384);color:#b5663c">WAIST</div>
<div class="lab" style="left:120.4px;top:1314.6px;font-size:22px;letter-spacing:1px;transform:scaleX(0.9);color:#b5663c">HIP</div>
</body>
</html>
